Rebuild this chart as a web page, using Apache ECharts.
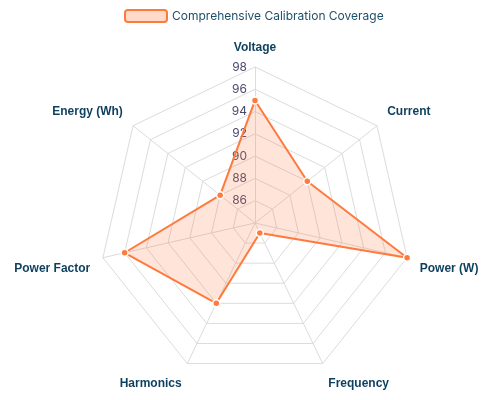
<!DOCTYPE html>
<html><head><meta charset="utf-8">
<script src="https://cdn.jsdelivr.net/npm/echarts@6/dist/echarts.min.js"></script>
<style>html,body{margin:0;padding:0;background:#fff}#c{width:500px;height:400px}</style>
</head><body><div id="c"></div>
<script>
const indicatorNames = ['Voltage','Current','Power (W)','Frequency','Harmonics','Power Factor','Energy (Wh)'];
const seriesName = 'Comprehensive Calibration Coverage';
const values = [95, 90, 98, 85, 92, 96, 88];
const axisMin = 84, axisMax = 98;

// ECharts lays radar axes counter-clockwise; reorder to get clockwise layout
const order = [0].concat(indicatorNames.map((_, i) => i).slice(1).reverse());
const upperNames = ['Current', 'Energy (Wh)'];
const nameFont = {color: '#0d3f5e', fontWeight: 'bold', fontSize: 12, fontFamily: 'Liberation Sans'};

const chart = echarts.init(document.getElementById('c'));
chart.setOption({
  backgroundColor: '#fff',
  textStyle: {fontFamily: 'Inter'},
  legend: {
    top: 4, left: 119, itemWidth: 42, itemHeight: 12, itemGap: 8,
    data: [{name: seriesName, itemStyle: {color: 'rgba(255,122,61,0.28)', borderColor: '#ff7a3d', borderWidth: 2}}],
    textStyle: {color: '#1f4e6b', fontSize: 12, fontFamily: 'Inter'}
  },
  radar: {
    center: ['51%', '55.75%'],
    radius: 156,
    startAngle: 90,
    splitNumber: 7,
    shape: 'polygon',
    indicator: order.map(i => ({name: indicatorNames[i], min: axisMin, max: axisMax,
      axisLabel: i === 0 ? {show: true, color: '#4b4b6e', fontSize: 12, fontFamily: 'Inter',
        formatter: v => v === axisMin ? '' : v} : {show: false}})),
    axisName: Object.assign({}, nameFont, {
      formatter: name => name === 'Voltage' ? '{t|' + name + '}' :
        (upperNames.indexOf(name) >= 0 ? '{u|' + name + '}' : '{d|' + name + '}'),
      rich: {
        t: Object.assign({}, nameFont),
        u: Object.assign({}, nameFont, {padding: [0, 0, 12, 0]}),
        d: Object.assign({}, nameFont, {padding: [16, 0, 0, 0]})
      }
    }),
    nameGap: 13,
    splitLine: {lineStyle: {color: '#dcdcdc', width: 1}},
    splitArea: {show: false},
    axisLine: {lineStyle: {color: '#dcdcdc'}},
    axisLabel: {show: false}
  },
  series: [{
    name: seriesName,
    type: 'radar',
    symbol: 'circle',
    symbolSize: 7,
    itemStyle: {color: '#ff7a3d', borderColor: '#fff', borderWidth: 1.5},
    lineStyle: {color: '#ff7a3d', width: 2},
    areaStyle: {color: 'rgba(255,122,61,0.28)'},
    data: [{value: order.map(i => values[i]), name: seriesName}]
  }]
});
</script></body></html>
